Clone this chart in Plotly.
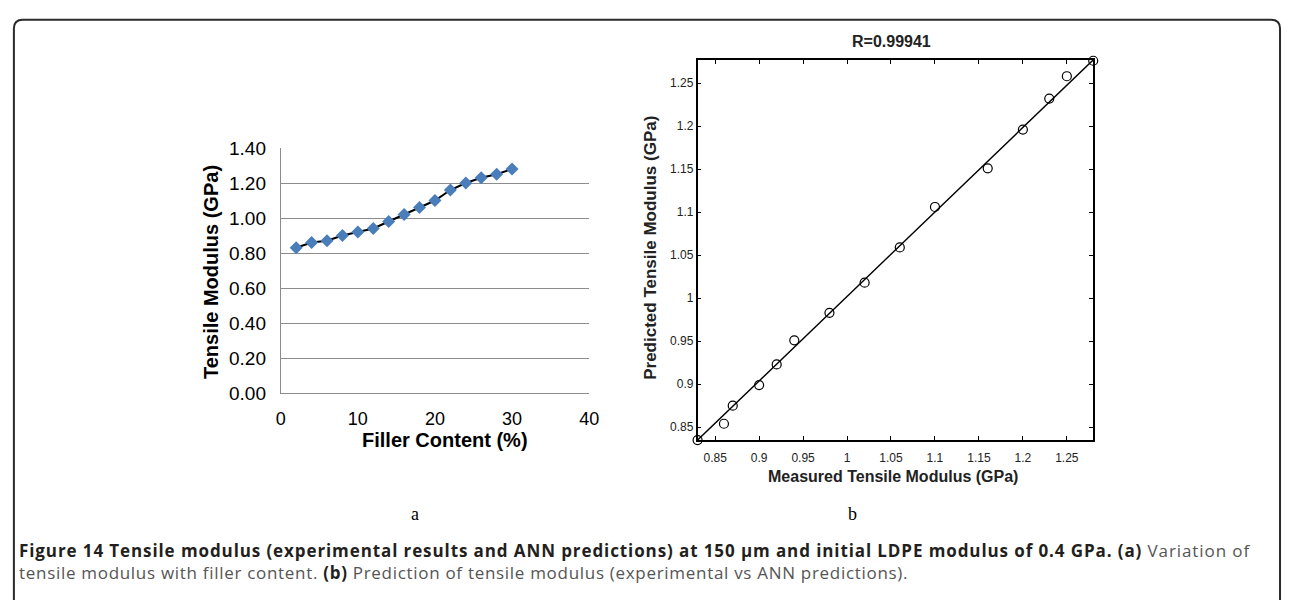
import plotly.graph_objects as go

W, H = 1292, 600

# ---- Panel (a): Tensile modulus vs filler content ----
filler_content = [2, 4, 6, 8, 10, 12, 14, 16, 18, 20, 22, 24, 26, 28, 30]
tensile_modulus = [0.83, 0.86, 0.87, 0.90, 0.92, 0.94, 0.98, 1.02, 1.06, 1.10,
                   1.16, 1.20, 1.23, 1.25, 1.28]
a_xticks = [0, 10, 20, 30, 40]
a_yticks = [0.0, 0.2, 0.4, 0.6, 0.8, 1.0, 1.2, 1.4]

# ---- Panel (b): measured vs predicted ----
measured = [0.83, 0.86, 0.87, 0.90, 0.92, 0.94, 0.98, 1.02, 1.06, 1.10,
            1.16, 1.20, 1.23, 1.25, 1.28]
predicted = [0.835, 0.854, 0.875, 0.899, 0.923, 0.951, 0.983, 1.018, 1.059, 1.106,
             1.151, 1.196, 1.232, 1.258, 1.276]
fit_x = [0.83, 1.28]
fit_y = [0.835, 1.277]
b_xticks = [0.85, 0.90, 0.95, 1.00, 1.05, 1.10, 1.15, 1.20, 1.25]
b_xticktext = ["0.85", "0.9", "0.95", "1", "1.05", "1.1", "1.15", "1.2", "1.25"]
b_yticks = [0.85, 0.90, 0.95, 1.00, 1.05, 1.10, 1.15, 1.20, 1.25]
b_yticktext = ["0.85", "0.9", "0.95", "1", "1.05", "1.1", "1.15", "1.2", "1.25"]


def px(x):
    return x / W


def py(y):
    return 1 - y / H


fig = go.Figure()

fig.add_trace(go.Scatter(
    x=filler_content, y=tensile_modulus, mode="lines+markers",
    line=dict(color="black", width=2),
    marker=dict(symbol="diamond", size=10, color="#4A7EBB"),
    xaxis="x", yaxis="y", showlegend=False))

fig.add_trace(go.Scatter(
    x=fit_x, y=fit_y, mode="lines",
    line=dict(color="black", width=1.4),
    xaxis="x2", yaxis="y2", showlegend=False))
fig.add_trace(go.Scatter(
    x=measured, y=predicted, mode="markers",
    marker=dict(symbol="circle-open", size=9, color="black", line=dict(width=1.2)),
    xaxis="x2", yaxis="y2", showlegend=False, cliponaxis=False))

sans = "Liberation Sans, Arial, sans-serif"

fig.update_layout(
    width=W, height=H, margin=dict(l=0, r=0, t=0, b=0),
    paper_bgcolor="white", plot_bgcolor="white",
    font=dict(family=sans, color="black"),
    xaxis=dict(domain=[px(279), px(591)], range=[0, 40], tickvals=a_xticks,
               showgrid=False, zeroline=False, showline=True, linecolor="#8c8c8c",
               linewidth=1, ticks="outside", ticklen=9, tickcolor="rgba(0,0,0,0)",
               tickfont=dict(size=18, color="black"), anchor="y"),
    yaxis=dict(domain=[py(397), py(143)], range=[0, 1.4], tickvals=a_yticks,
               tickformat=".2f", showgrid=True, gridcolor="#8c8c8c", gridwidth=1,
               zeroline=False, showline=True, linecolor="#8c8c8c", linewidth=1,
               ticks="outside", ticklen=10, tickcolor="rgba(0,0,0,0)",
               tickfont=dict(size=19, color="black"), anchor="x"),
    xaxis2=dict(domain=[px(700.7), px(1101)], range=[0.83, 1.28],
                tickvals=b_xticks, ticktext=b_xticktext, showgrid=False,
                zeroline=False, showline=True, linecolor="black", linewidth=1.5,
                mirror="ticks", ticks="inside", ticklen=4, tickcolor="black",
                ticklabelstandoff=6,
                tickfont=dict(size=12, color="#222"), anchor="y2"),
    yaxis2=dict(domain=[py(445.7), py(51.7)], range=[0.835, 1.277],
                tickvals=b_yticks, ticktext=b_yticktext, showgrid=False,
                zeroline=False, showline=True, linecolor="black", linewidth=1.5,
                mirror="ticks", ticks="inside", ticklen=4, tickcolor="black",
                ticklabelstandoff=0,
                tickfont=dict(size=12, color="#222"), anchor="x2"),
)

ann = []


def text(x, y, s, size, family=sans, bold=False, angle=0, color="black",
         xanchor="center", yanchor="middle"):
    ann.append(dict(x=px(x), y=py(y), xref="paper", yref="paper",
                    text=(f"<b>{s}</b>" if bold else s),
                    showarrow=False, textangle=angle, xanchor=xanchor, yanchor=yanchor,
                    align="left", font=dict(size=size, family=family, color=color)))


text(209, 272, "Tensile Modulus (GPa)", 20, bold=True, angle=-90)
text(445, 446, "Filler Content (%)", 20, bold=True)
text(897, 33, "R=0.99941", 16, bold=True, color="#222")
text(653, 246, "Predicted Tensile Modulus (GPa)", 17, bold=True, angle=-90, color="#222")
text(898, 483, "Measured Tensile Modulus (GPa)", 16, bold=True, color="#222")
text(415, 522, "a", 18, family="Liberation Serif, Times New Roman, serif")
text(857, 522, "b", 18, family="Liberation Serif, Times New Roman, serif")

cap_font = "Open Sans, Noto Sans, sans-serif"
caption = (
    "<span style='letter-spacing:0.9px'><b>Figure 14 Tensile modulus (experimental results and ANN "
    "predictions) at 150 μm and initial LDPE modulus of 0.4 GPa. (a)</b>"
    "<span style='color:#555'> Variation of</span></span><br>"
    "<span style='letter-spacing:0.7px'><span style='color:#555'>tensile modulus with filler content. </span>"
    "<b>(b)</b><span style='color:#555'> Prediction of tensile modulus (experimental vs ANN "
    "predictions).</span></span>"
)
text(12, 546, caption, 17, family=cap_font, color="#231F20", xanchor="left", yanchor="top")
fig.update_layout(annotations=ann)

# rounded frame around the figure
l, t, r, b, rad = 9, 10, 1290, 640, 9
path = (f"M {px(l)},{py(b)} L {px(l)},{py(t + rad)} Q {px(l)},{py(t)} {px(l + rad)},{py(t)} "
        f"L {px(r - rad)},{py(t)} Q {px(r)},{py(t)} {px(r)},{py(t + rad)} L {px(r)},{py(b)}")
fig.add_shape(type="path", path=path, xref="paper", yref="paper",
              line=dict(color="#2b2b2b", width=2))

fig.write_html("out.html")
